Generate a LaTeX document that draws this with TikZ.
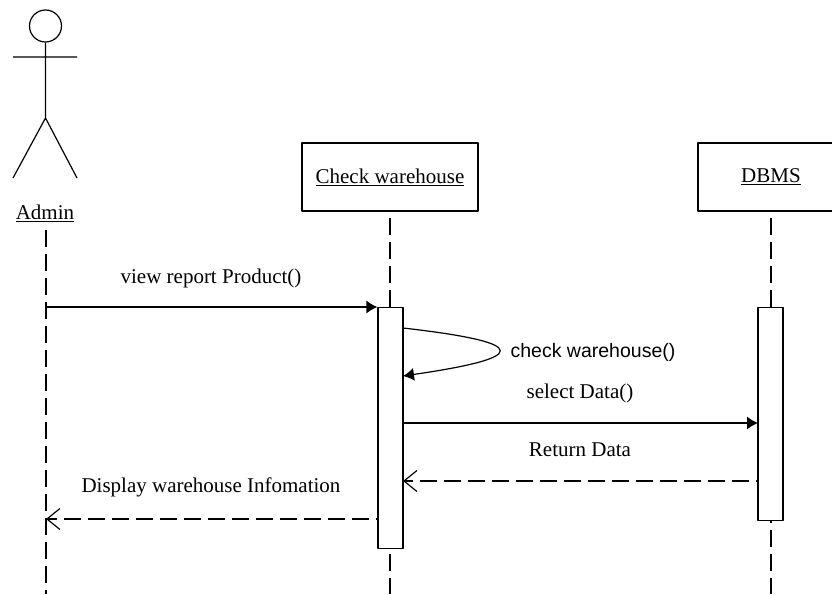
\documentclass[tikz,border=0pt]{standalone}
\usepackage{fontspec}
\setmainfont{Liberation Serif}
\newfontfamily\msgfont{Liberation Sans}
\usetikzlibrary{arrows.meta}
\tikzset{
	objbox/.style={draw,line width=1.3pt,minimum height=68pt,font=\fontsize{21}{24}\selectfont},
	lifeline/.style={draw,dash pattern=on 17pt off 7pt,line width=1.2pt},
	actbar/.style={draw,fill=white,line width=1.2pt,minimum width=25pt,anchor=north},
	msg/.style={draw,line width=1.2pt,-{Latex[length=11pt,width=13pt]}},
	ret/.style={draw,line width=1.2pt,dash pattern=on 17pt off 7pt,dash phase=15pt,-{Straight Barb[length=13pt,width=21pt]}},
	lbl/.style={font=\fontsize{21}{24}\selectfont,inner sep=0pt}
}
\begin{document}
\begin{tikzpicture}[x=1pt,y=-1pt,line join=round]
\useasboundingbox (0,0) rectangle (832,594);
% actor
\node[draw,circle,line width=1.2pt,minimum size=32pt,inner sep=0pt] (head) at (45.5,26) {};
\coordinate (hip) at (45.5,118);
\coordinate (armL) at (13,57);
\coordinate (armR) at (77,57);
\coordinate (footL) at (13,178);
\coordinate (footR) at (77,178);
\draw[line width=1.2pt] (head.south) -- (hip) (armL) -- (armR) (hip) -- (footL) (hip) -- (footR);
\node[lbl] (admin) at (45,213) {\underline{Admin}};
% objects
\node[objbox,minimum width=176pt] (check) at (390,177) {\underline{Check warehouse}};
\node[objbox,minimum width=146pt] (dbms) at (771,177) {\underline{DBMS}};
% lifelines
\coordinate (adminTop) at (46,230);
\coordinate (checkTop) at (390,218);
\coordinate (dbmsTop) at (771,218);
\coordinate (adminEnd) at (46,594);
\coordinate (checkEnd) at (390,594);
\coordinate (dbmsEnd) at (771,594);
\draw[lifeline] (adminTop) -- (adminEnd);
\draw[lifeline] (checkTop) -- (checkEnd);
\draw[lifeline] (dbmsTop) -- (dbmsEnd);
\node[actbar,minimum height=241pt] (barC) at (390.5,307) {};
\node[actbar,minimum height=213pt] (barD) at (770.5,307) {};
% messages
\coordinate (m1a) at (46,307);
\draw[msg] (m1a) -- (barC.north west);
\node[lbl] (m1t) at (211,278) {view report Product()};
\coordinate (s1) at (403,328);
\coordinate (s2) at (403,376);
\draw[msg] (s1) .. controls (535,343) and (527,358) .. (s2);
\node[lbl,font=\msgfont\fontsize{19.5}{22}\selectfont] (m2t) at (593,352) {check warehouse()};
\node[lbl] (m3t) at (580,393) {select Data()};
\coordinate (m3a) at (403,423);
\coordinate (m3b) at (758,423);
\draw[msg] (m3a) -- (m3b);
\node[lbl] (m4t) at (580,450) {Return Data};
\coordinate (m4a) at (758,481);
\coordinate (m4b) at (403,481);
\draw[ret] (m4a) -- (m4b);
\node[lbl] (m5t) at (211,487) {Display warehouse Infomation};
\coordinate (m5a) at (378,519);
\coordinate (m5b) at (46,519);
\draw[ret] (m5a) -- (m5b);
\end{tikzpicture}
\end{document}
